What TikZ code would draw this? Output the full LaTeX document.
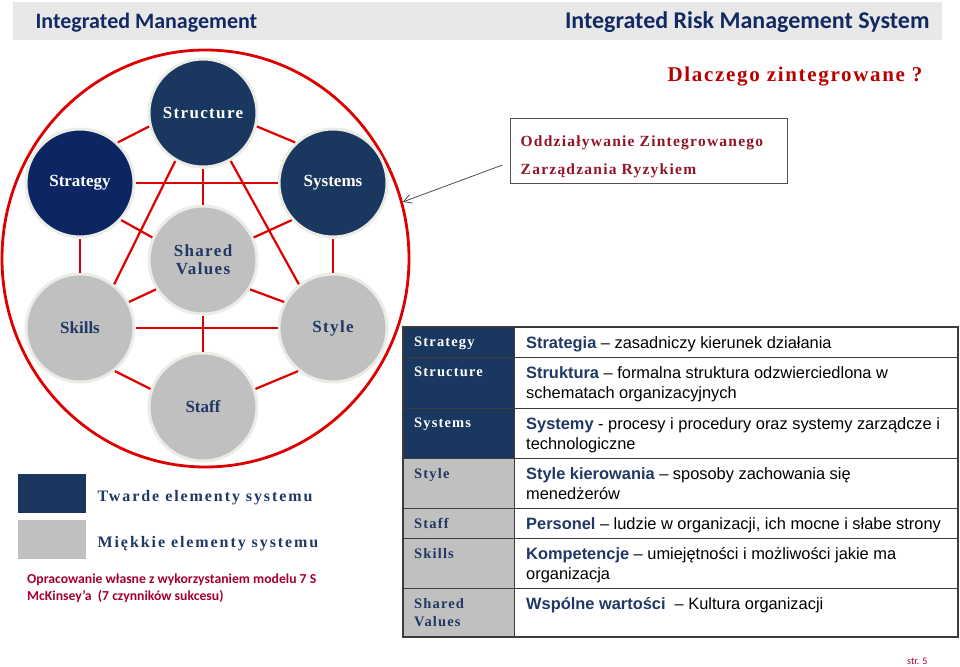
\documentclass[tikz,border=0pt]{standalone}
\usepackage{fontspec}
\setmainfont{Liberation Serif}
\newfontfamily\calib{Carlito}
\newfontfamily\arial{Liberation Sans}
\newfontfamily\spaced[LetterSpace=8]{Liberation Serif}
\newfontfamily\wide[LetterSpace=12]{Liberation Serif}
\usetikzlibrary{arrows.meta, positioning, calc, shapes.geometric}
\definecolor{HardNavy}{RGB}{25, 55, 95}
\definecolor{DeepNavy}{RGB}{12, 38, 100}
\definecolor{SoftGray}{RGB}{192, 192, 192}
\definecolor{TextNavy}{RGB}{31, 56, 100}
\definecolor{HeadNavy}{RGB}{18, 42, 100}
\definecolor{LinkRed}{RGB}{222, 0, 0}
\definecolor{DarkRed}{RGB}{185, 0, 0}
\definecolor{WineRed}{RGB}{145, 20, 40}
\definecolor{NoteRed}{RGB}{165, 0, 45}
\definecolor{BarGray}{RGB}{232, 232, 232}
\definecolor{RimGray}{RGB}{236, 236, 230}
\definecolor{RuleGray}{RGB}{60, 60, 60}
\newcommand{\kw}[1]{\textcolor{TextNavy}{\bfseries #1}}

\begin{document}
\begin{tikzpicture}[
  x=1pt, y=-1pt,
  sphere/.style={circle, minimum size=108pt, inner sep=0pt, draw=RimGray, line width=3pt, align=center, font=\bfseries\fontsize{17}{18}\selectfont},
  hard/.style={sphere, fill=HardNavy, text=white},
  soft/.style={sphere, fill=SoftGray, text=TextNavy},
  link/.style={draw=LinkRed, line width=2.2pt},
  ring/.style={ellipse, minimum width=407pt, minimum height=417pt, draw=LinkRed, line width=2.8pt},
  pointer/.style={-{Straight Barb[length=8pt, width=9pt]}, draw=black!70, line width=0.8pt},
  notebox/.style={draw=RuleGray!90, line width=1pt, minimum width=277pt, minimum height=64pt},
  notetext/.style={inner sep=0pt, align=left, text=WineRed, font=\spaced\bfseries\fontsize{15.5}{28}\selectfont},
  hardcell/.style={draw=RuleGray, line width=1pt, fill=HardNavy, minimum width=111pt, anchor=north west},
  softcell/.style={draw=RuleGray, line width=1pt, fill=SoftGray, minimum width=111pt, anchor=north west},
  textcell/.style={draw=RuleGray, line width=1pt, fill=white, minimum width=443pt, anchor=north west},
  tag/.style={inner sep=0pt, align=left, font=\spaced\bfseries\fontsize{14.5}{18}\selectfont},
  entry/.style={inner sep=0pt, align=left, font=\arial\fontsize{16.4}{20.5}\selectfont},
  swatch/.style={minimum width=68pt, minimum height=39pt, inner sep=0pt, anchor=north west},
  keytext/.style={inner sep=0pt, text=TextNavy, font=\wide\bfseries\fontsize{16}{18}\selectfont}
]
  \useasboundingbox (0,0) rectangle (960,666);

  % header
  \node[fill=BarGray, minimum width=929pt, minimum height=38pt, anchor=north west] (bar) at (13,2) {};
  \node[anchor=base west, text=HeadNavy, font=\calib\bfseries\fontsize{22}{24}\selectfont] (lefttitle) at (32,29) {Integrated Management};
  \node[anchor=base east, text=HeadNavy, font=\calib\bfseries\fontsize{24}{26}\selectfont] (righttitle) at (933,29) {Integrated Risk Management System};
  \node[anchor=base east, text=DarkRed, font=\spaced\bfseries\fontsize{21}{22}\selectfont] (why) at (926,82) {Dlaczego zintegrowane ?};

  % 7S circle
  \node[ring] (ring) at (205.5,258.5) {};
  \node[hard, fill=DeepNavy] (strategy) at (80,183) {Strategy};
  \node[hard] (structure) at (203,113) {\spaced Structure};
  \node[hard] (systems) at (333,183) {Systems};
  \node[soft] (shared) at (203,260) {\spaced Shared\\\spaced Values};
  \node[soft] (skills) at (80,328) {Skills};
  \node[soft] (style) at (333,328) {\spaced Style};
  \node[soft] (staff) at (203,407) {Staff};

  \draw[link] (structure.194) -- (strategy.47);
  \draw[link] (structure.-14) -- (systems.133);
  \draw[link] (strategy) -- (systems);
  \draw[link] (structure) -- (shared);
  \draw[link] (structure.240) -- (skills.52);
  \draw[link] (structure.-60) -- (style.128);
  \draw[link] (strategy.-42) -- (shared.156);
  \draw[link] (systems.222) -- (shared.24);
  \draw[link] (strategy) -- (skills);
  \draw[link] (systems) -- (style);
  \draw[link] (skills.28) -- (shared.212);
  \draw[link] (style.152) -- (shared.328);
  \draw[link] (skills) -- (style);
  \draw[link] (shared) -- (staff);
  \draw[link] (skills.-51) -- (staff.161);
  \draw[link] (style.231) -- (staff.19);

  % note and arrow
  \node[notebox] (note) at (648.5,151) {};
  \node[notetext, below right=17pt and 11pt of note.north west] (notetext) {Oddziaływanie Zintegrowanego\\Zarządzania Ryzykiem};
  \coordinate (tail) at ($(note.west)+(-7,14)$);
  \draw[pointer] (tail) -- (ring.16);

  % table
  \node[hardcell, minimum height=30pt] (cstrategy) at (403,327) {};
  \node[hardcell, minimum height=51pt] (cstructure) at (403,357) {};
  \node[hardcell, minimum height=50pt] (csystems) at (403,408) {};
  \node[softcell, minimum height=50pt] (cstyle) at (403,458) {};
  \node[softcell, minimum height=30pt] (cstaff) at (403,508) {};
  \node[softcell, minimum height=50pt] (cskills) at (403,538) {};
  \node[softcell, minimum height=48pt] (cshared) at (403,588) {};
  \node[textcell, minimum height=30pt] (dstrategy) at (514,327) {};
  \node[textcell, minimum height=51pt] (dstructure) at (514,357) {};
  \node[textcell, minimum height=50pt] (dsystems) at (514,408) {};
  \node[textcell, minimum height=50pt] (dstyle) at (514,458) {};
  \node[textcell, minimum height=30pt] (dstaff) at (514,508) {};
  \node[textcell, minimum height=50pt] (dskills) at (514,538) {};
  \node[textcell, minimum height=48pt] (dshared) at (514,588) {};
  \draw[RuleGray, line width=1.6pt] (cstrategy.north west) rectangle (dshared.south east);

  \node[tag, text=white, below right=10pt and 11pt of cstrategy.north west] (tstrategy) {Strategy};
  \node[tag, text=white, below right=10pt and 11pt of cstructure.north west] (tstructure) {Structure};
  \node[tag, text=white, below right=10pt and 11pt of csystems.north west] (tsystems) {Systems};
  \node[tag, text=TextNavy, below right=10pt and 11pt of cstyle.north west] (tstyle) {Style};
  \node[tag, text=TextNavy, below right=10pt and 11pt of cstaff.north west] (tstaff) {Staff};
  \node[tag, text=TextNavy, below right=10pt and 11pt of cskills.north west] (tskills) {Skills};
  \node[tag, text=TextNavy, below right=10pt and 11pt of cshared.north west] (tshared) {Shared\\Values};

  \node[entry, below right=9pt and 12pt of dstrategy.north west] (estrategy) {\kw{Strategia} – zasadniczy kierunek działania};
  \node[entry, below right=9pt and 12pt of dstructure.north west] (estructure) {\kw{Struktura} – formalna struktura odzwierciedlona w\\schematach organizacyjnych};
  \node[entry, below right=9pt and 12pt of dsystems.north west] (esystems) {\kw{Systemy} - procesy i procedury oraz systemy zarządcze i\\technologiczne};
  \node[entry, below right=9pt and 12pt of dstyle.north west] (estyle) {\kw{Style kierowania} – sposoby zachowania się\\menedżerów};
  \node[entry, below right=9pt and 12pt of dstaff.north west] (estaff) {\kw{Personel} – ludzie w organizacji, ich mocne i słabe strony};
  \node[entry, below right=9pt and 12pt of dskills.north west] (eskills) {\kw{Kompetencje} – umiejętności i możliwości jakie ma\\organizacja};
  \node[entry, below right=9pt and 12pt of dshared.north west] (eshared) {\kw{Wspólne wartości}\ \ – Kultura organizacji};

  % legend
  \node[swatch, fill=HardNavy] (hardkey) at (18,474) {};
  \node[swatch, fill=SoftGray] (softkey) at (18,520) {};
  \node[keytext, right=11pt of hardkey, yshift=-4pt] (hardtext) {Twarde elementy systemu};
  \node[keytext, right=11pt of softkey, yshift=-4pt] (softtext) {Miękkie elementy systemu};
  \node[anchor=north west, inner sep=0pt, align=left, text=NoteRed, font=\calib\bfseries\fontsize{13.7}{16.5}\selectfont] (source) at (27,574) {Opracowanie własne z wykorzystaniem modelu 7 S\\McKinsey’a\ \ (7 czynników sukcesu)};
  \node[anchor=base east, text=NoteRed, font=\calib\fontsize{10}{12}\selectfont] (page) at (931,664) {str. 5};
\end{tikzpicture}
\end{document}
